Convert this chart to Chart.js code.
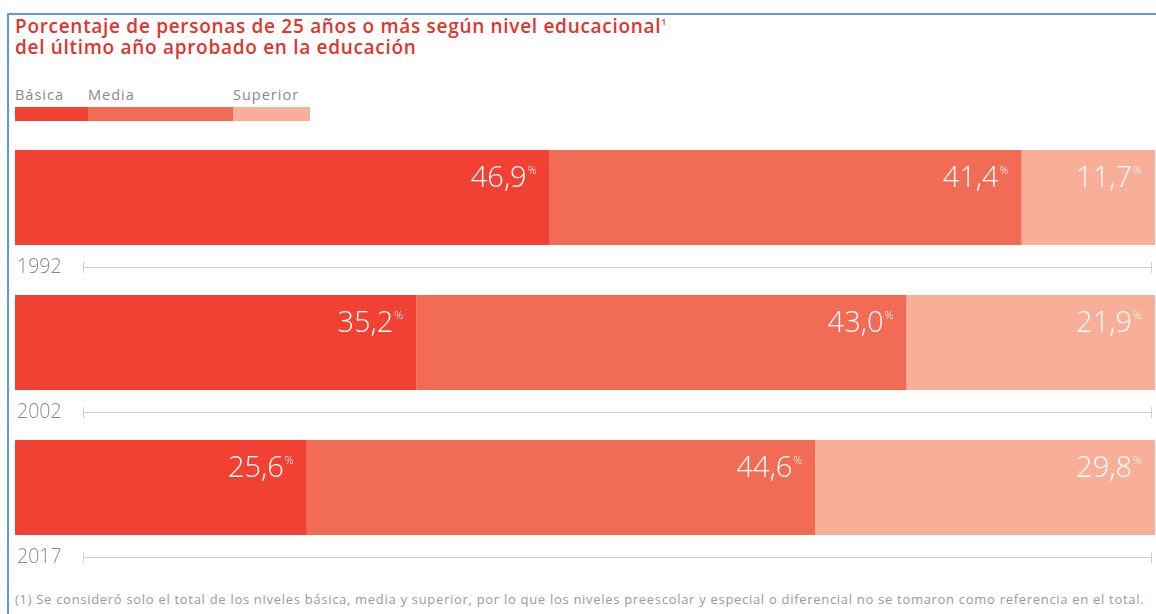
<!DOCTYPE html>
<html>
<head>
<meta charset="utf-8">
<script src="https://cdn.jsdelivr.net/npm/chart.js@4/dist/chart.umd.min.js"></script>
<style>
  html, body { margin: 0; padding: 0; background: #fff; }
  #wrap { position: relative; width: 1156px; height: 614px; overflow: hidden; font-family: "Open Sans", sans-serif; }
  #frame { position: absolute; left: 7px; top: 13px; width: 1160px; height: 700px; border-left: 2px solid #5b9bd5; border-top: 2px solid #5b9bd5; }
  #title { position: absolute; left: 15px; top: 16px; color: #e0352b; font-size: 19px; font-weight: 600; line-height: 21px; letter-spacing: 0.7px; }
  #title sup { font-size: 9px; vertical-align: 8px; line-height: 0; }
  #legend { position: absolute; left: 15px; top: 85px; }
  .lg { position: absolute; top: 0; }
  .lg span { display: block; font-size: 14.5px; letter-spacing: 1px; color: #8a8a8a; height: 22px; line-height: 20px; }
  .lg i { display: block; height: 14px; }
  #note { position: absolute; left: 15px; top: 590px; font-size: 13px; letter-spacing: 0.7px; color: #9a9a9a; white-space: nowrap; }
  canvas { position: absolute; left: 0; top: 0; }
</style>
</head>
<body>
<div id="wrap">
  <div id="frame"></div>
  <div id="title">Porcentaje de personas de 25 años o más según nivel educacional<sup>1</sup><br>del último año aprobado en la educación</div>
  <div id="legend"></div>
  <div id="note">(1) Se consideró solo el total de los niveles básica, media y superior, por lo que los niveles preescolar y especial o diferencial no se tomaron como referencia en el total.</div>
  <canvas id="chart" width="1156" height="614"></canvas>
</div>
<script>
// data
var years    = ['1992', '2002', '2017'];
var basica   = [46.9, 35.2, 25.6];
var media    = [41.4, 43.0, 44.6];
var superior = [11.7, 21.9, 29.8];
var seriesNames  = ['Básica', 'Media', 'Superior'];
var seriesColors = ['#f04133', '#f26c55', '#f8ae97'];
var legendWidths = [73, 145, 77];

// legend (html)
(function () {
    var lg = document.getElementById('legend'), x = 0;
    seriesNames.forEach(function (name, i) {
        var d = document.createElement('div');
        d.className = 'lg';
        d.style.left = x + 'px';
        d.innerHTML = '<span>' + name + '</span><i style="width:' + legendWidths[i] + 'px;background:' + seriesColors[i] + '"></i>';
        lg.appendChild(d);
        x += legendWidths[i];
    });
}());

var fmt = function (v) { return v.toFixed(1).replace('.', ','); };

// value labels inside bars, right aligned, with small superscript %
var barLabels = {
    id: 'barLabels',
    afterDatasetsDraw: function (chart) {
        var ctx = chart.ctx;
        ctx.save();
        ctx.fillStyle = '#fff';
        ctx.textBaseline = 'alphabetic';
        chart.data.datasets.forEach(function (ds, di) {
            chart.getDatasetMeta(di).data.forEach(function (bar, i) {
                var right = Math.min(bar.x, chart.chartArea.right) - 23;
                var top = bar.y - bar.height / 2;
                ctx.font = '300 29px "Open Sans"';
                ctx.textAlign = 'right';
                ctx.fillText(fmt(ds.data[i]), right, top + 37);
                ctx.font = '300 11px "Open Sans"';
                ctx.textAlign = 'left';
                ctx.fillText('%', right + 1, top + 24);
            });
        });
        ctx.restore();
    }
};

// year label + thin axis line under each bar
var yearAxis = {
    id: 'yearAxis',
    afterDatasetsDraw: function (chart) {
        var ctx = chart.ctx;
        var meta = chart.getDatasetMeta(0);
        ctx.save();
        meta.data.forEach(function (bar, i) {
            var y = bar.y + bar.height / 2 + 22;
            ctx.font = '300 19.5px "Open Sans"';
            ctx.fillStyle = '#8a8a8a';
            ctx.textAlign = 'left';
            ctx.textBaseline = 'middle';
            ctx.fillText(chart.data.labels[i], 17, y);
            ctx.strokeStyle = '#cfcfcf';
            ctx.lineWidth = 1;
            ctx.beginPath();
            ctx.moveTo(83, y + 0.5); ctx.lineTo(1152, y + 0.5);
            ctx.moveTo(83.5, y - 5); ctx.lineTo(83.5, y + 6);
            ctx.moveTo(1151.5, y - 5); ctx.lineTo(1151.5, y + 6);
            ctx.stroke();
        });
        ctx.restore();
    }
};

new Chart(document.getElementById('chart'), {
    type: 'bar',
    data: {
        labels: years,
        datasets: [basica, media, superior].map(function (d, i) {
            return {
                label: seriesNames[i],
                data: d,
                backgroundColor: seriesColors[i],
                borderWidth: 0,
                barPercentage: 1,
                categoryPercentage: 95 / 145
            };
        })
    },
    options: {
        indexAxis: 'y',
        responsive: false,
        animation: false,
        layout: { padding: { left: 15, right: 1, top: 125, bottom: 54 } },
        scales: {
            x: { stacked: true, min: 0, max: 100, display: false },
            y: { stacked: true, display: false }
        },
        plugins: {
            legend: { display: false },
            tooltip: { enabled: false }
        }
    },
    plugins: [barLabels, yearAxis]
});
</script>
</body>
</html>
